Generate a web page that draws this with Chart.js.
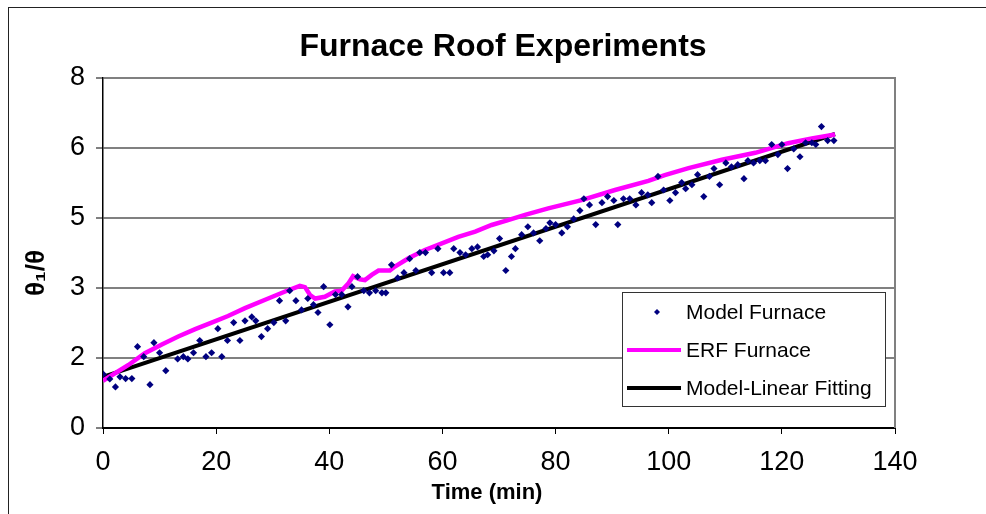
<!DOCTYPE html>
<html>
<head>
<meta charset="utf-8">
<script src="https://cdn.jsdelivr.net/npm/chart.js@4.4.1/dist/chart.umd.min.js"></script>
<style>
  html, body { margin: 0; padding: 0; background: #fff; }
  #wrap { width: 986px; height: 514px; }
</style>
</head>
<body>
<div id="wrap"><canvas id="chart" width="986" height="514"></canvas></div>
<script>
// values
const modelTime = [0.05, 1.2, 2.2, 3.0, 4.0, 5.1, 6.1, 7.2, 8.3, 9.0, 10.0, 11.1, 13.2, 14.2, 15.0, 16.0,
  17.1, 18.2, 19.2, 20.3, 21.0, 22.0, 23.1, 24.2, 25.1, 26.3, 27.0, 28.0, 29.1, 30.2, 31.2, 32.3,
  33.0, 34.1, 35.1, 36.2, 37.2, 38.0, 39.0, 40.1, 41.1, 42.2, 43.3, 44.0, 45.0, 46.1, 47.1, 48.2,
  49.3, 50.0, 51.0, 52.1, 53.2, 54.2, 55.3, 56.0, 57.0, 58.1, 59.2, 60.2, 61.3, 62.0, 63.1, 64.1,
  65.2, 66.2, 67.3, 68.0, 69.1, 70.1, 71.2, 72.2, 72.9, 74.0, 75.1, 76.1, 77.2, 78.3, 79.0, 80.0,
  81.1, 82.1, 83.2, 84.3, 85.0, 86.0, 87.1, 88.2, 89.2, 90.3, 91.0, 92.0, 93.1, 94.2, 95.2, 96.3,
  97.0, 98.1, 99.1, 100.2, 101.2, 102.3, 103.0, 104.1, 105.1, 106.2, 107.2, 108.0, 109.0, 110.1,
  111.1, 112.2, 113.3, 114.0, 115.0, 116.1, 117.1, 118.2, 119.3, 120.0, 121.0, 122.1, 123.2,
  124.2, 125.3, 126.0, 127.0, 128.1, 129.2];
const modelValue = [1.23, 1.12, 0.94, 1.17, 1.13, 1.13, 1.86, 1.63, 0.99, 1.95, 1.72, 1.31, 1.58, 1.63, 1.58, 1.72,
  2.00, 1.63, 1.72, 2.27, 1.63, 2.00, 2.41, 2.00, 2.45, 2.54, 2.45, 2.09, 2.27, 2.41, 2.91, 2.45,
  3.14, 2.91, 2.70, 2.96, 2.82, 2.64, 3.23, 2.36, 3.05, 3.05, 2.77, 3.23, 3.46, 3.14, 3.09, 3.14,
  3.09, 3.09, 3.73, 3.43, 3.55, 3.87, 3.60, 4.01, 4.01, 3.55, 4.10, 3.55, 3.55, 4.10, 4.01, 3.96,
  4.10, 4.14, 3.92, 3.96, 4.05, 4.33, 3.60, 3.92, 4.10, 4.42, 4.60, 4.46, 4.28, 4.56, 4.69, 4.65,
  4.46, 4.60, 4.78, 4.97, 5.24, 5.10, 4.65, 5.15, 5.29, 5.20, 4.65, 5.24, 5.24, 5.10, 5.38, 5.33,
  5.15, 5.75, 5.44, 5.20, 5.38, 5.61, 5.47, 5.56, 5.79, 5.29, 5.75, 5.93, 5.56, 6.06,
  5.97, 6.02, 5.70, 6.11, 6.06, 6.11, 6.11, 6.48, 6.25, 6.48, 5.93, 6.38, 6.20,
  6.52, 6.52, 6.48, 6.89, 6.57, 6.57];

const erfTime = [0, 4.5, 7.4, 10.4, 13.3, 16.3, 19.2, 22.1, 25.1, 29.2, 32.2, 34.8, 35.7, 36.6, 37.5,
  39.2, 41.0, 42.2, 43.4, 44.2, 45.4, 46.3, 47.5, 48.7, 50.7, 51.6, 54.0, 56.9, 59.9, 62.8, 65.8,
  68.7, 71.6, 74.6, 78.7, 84.6, 90.5, 96.4, 99.3, 103.5, 109.4, 115.3, 121.1, 125.3, 129.4];
const erfValue = [1.08, 1.44, 1.71, 1.91, 2.09, 2.26, 2.41, 2.56, 2.74, 2.96, 3.12, 3.25, 3.22, 3.04, 2.96,
  3.00, 3.12, 3.14, 3.31, 3.47, 3.40, 3.38, 3.50, 3.60, 3.60, 3.69, 3.88, 4.07, 4.22, 4.37, 4.49,
  4.64, 4.75, 4.87, 5.02, 5.21, 5.44, 5.65, 5.78, 5.94, 6.13, 6.29, 6.51, 6.62, 6.71];

const fitTime = [0, 129.4];
const fitValue = [1.17, 6.72];

const xTickValues = [0, 20, 40, 60, 80, 100, 120, 140];
const yTickValues = [0, 1.6, 3.2, 4.8, 6.4, 8];
const yTickLabels = ['0', '2', '3', '5', '6', '8'];
const seriesLabels = ['Model Furnace', 'ERF Furnace', 'Model-Linear Fitting'];
const chartTitle = 'Furnace Roof Experiments';
const xTitle = 'Time (min)';
const yTitle = 'θ₁/θ';

const FONT = "'Liberation Sans', Arial, sans-serif";
const pairs = (xs, ys) => xs.map((x, i) => ({ x: x, y: ys[i] }));

// frame, titles, plot right edge and the boxed legend are drawn by hand
const decorations = {
  id: 'decorations',
  beforeDraw(chart) {
    const ctx = chart.ctx;
    ctx.save();
    ctx.fillStyle = '#fff';
    ctx.fillRect(0, 0, chart.width, chart.height);
    ctx.strokeStyle = '#222';
    ctx.lineWidth = 1;
    ctx.strokeRect(8.5, 7.5, chart.width + 20, chart.height + 20);
    ctx.restore();
  },
  afterDatasetsDraw(chart) {
    const ctx = chart.ctx;
    const { top, bottom, right } = chart.chartArea;
    ctx.save();
    ctx.strokeStyle = '#808080';
    ctx.lineWidth = 2;
    ctx.beginPath();
    ctx.moveTo(right, top - 1);
    ctx.lineTo(right, bottom);
    ctx.stroke();

    // legend box
    const lx = 622.5, ly = 292.5, lw = 263, lh = 114;
    ctx.fillStyle = '#fff';
    ctx.fillRect(lx, ly, lw, lh);
    ctx.strokeStyle = '#333';
    ctx.lineWidth = 1;
    ctx.strokeRect(lx, ly, lw, lh);
    ctx.font = '21px ' + FONT;
    ctx.textBaseline = 'middle';
    ctx.textAlign = 'left';
    chart.data.datasets.forEach((ds, i) => {
      const cy = 312 + i * 38;
      if (ds.showLine) {
        ctx.strokeStyle = ds.borderColor;
        ctx.lineWidth = 4;
        ctx.beginPath();
        ctx.moveTo(627, cy);
        ctx.lineTo(681, cy);
        ctx.stroke();
      } else {
        ctx.fillStyle = ds.backgroundColor;
        ctx.beginPath();
        ctx.moveTo(657, cy - 3);
        ctx.lineTo(660, cy);
        ctx.lineTo(657, cy + 3);
        ctx.lineTo(654, cy);
        ctx.closePath();
        ctx.fill();
      }
      ctx.fillStyle = '#000';
      ctx.fillText(ds.label, 686, cy + 1);
    });

    // titles
    ctx.fillStyle = '#000';
    ctx.textAlign = 'center';
    ctx.font = 'bold 32px ' + FONT;
    ctx.fillText(chartTitle, 503, 47);
    ctx.font = 'bold 22px ' + FONT;
    ctx.fillText(xTitle, 487, 493);
    ctx.translate(37, 273);
    ctx.rotate(-Math.PI / 2);
    ctx.font = 'bold 26px ' + FONT;
    ctx.fillText(yTitle, 0, 0);
    ctx.restore();
  }
};

new Chart(document.getElementById('chart'), {
  type: 'scatter',
  data: {
    datasets: [
      {
        label: seriesLabels[0],
        data: pairs(modelTime, modelValue),
        showLine: false,
        pointStyle: 'rectRot',
        pointRadius: 3.6,
        borderWidth: 0,
        backgroundColor: '#000080',
        borderColor: '#000080',
      },
      {
        label: seriesLabels[1],
        data: pairs(erfTime, erfValue),
        showLine: true,
        pointRadius: 0,
        borderWidth: 4.5,
        borderColor: '#ff00ff',
        backgroundColor: '#ff00ff',
        tension: 0,
      },
      {
        label: seriesLabels[2],
        data: pairs(fitTime, fitValue),
        showLine: true,
        pointRadius: 0,
        borderWidth: 4,
        borderColor: '#000000',
        backgroundColor: '#000000',
      }
    ]
  },
  options: {
    responsive: false,
    animation: false,
    layout: { padding: { top: 78, right: 91, bottom: 0, left: 0 } },
    plugins: {
      legend: { display: false },
      tooltip: { enabled: false },
      title: { display: false }
    },
    scales: {
      x: {
        type: 'linear',
        min: 0,
        max: 140,
        afterFit: (scale) => { scale.height = 86; },
        afterBuildTicks: (scale) => { scale.ticks = xTickValues.map(v => ({ value: v })); },
        ticks: { color: '#000', font: { family: FONT, size: 27 }, padding: 12, maxRotation: 0 },
        grid: { drawOnChartArea: false, tickColor: '#000', tickLength: 6, tickWidth: 1 },
        border: { color: '#000', width: 2 }
      },
      y: {
        type: 'linear',
        min: 0,
        max: 8,
        afterFit: (scale) => { scale.width = 103; },
        afterBuildTicks: (scale) => { scale.ticks = yTickValues.map(v => ({ value: v })); },
        ticks: {
          color: '#000', font: { family: FONT, size: 27 }, padding: 11,
          callback: (v, i) => yTickLabels[i]
        },
        grid: { color: '#808080', lineWidth: 2, tickColor: '#000', tickLength: 7, tickWidth: 1 },
        border: { color: '#000', width: 1.5 }
      }
    }
  },
  plugins: [decorations]
});
</script>
</body>
</html>
